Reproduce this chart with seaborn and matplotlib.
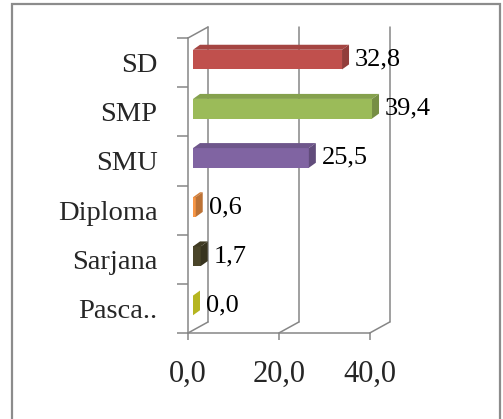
import matplotlib
matplotlib.use("Agg")
import matplotlib.pyplot as plt
import matplotlib.colors as mcolors
from matplotlib.patches import Polygon, Rectangle
import seaborn as sns
import pandas as pd

# Education level shares (percent)
categories = ["SD", "SMP", "SMU", "Diploma", "Sarjana", "Pasca.."]
values = [32.8, 39.4, 25.5, 0.6, 1.7, 0.0]
value_labels = ["32,8", "39,4", "25,5", "0,6", "1,7", "0,0"]
tick_values = [0, 20, 40]
tick_labels = ["0,0", "20,0", "40,0"]
bar_colors = ["#C0504D", "#9BBB59", "#8064A2", "#F79646", "#4A4529", "#EEEE2A"]

sns.set_style("white")
plt.rcParams["font.family"] = ["Liberation Serif", "DejaVu Serif"]

W, H, DPI = 503, 419, 100
fig = plt.figure(figsize=(W / DPI, H / DPI), dpi=DPI)

# front plane of the 3-D box, in pixels from the top-left corner
px_left, px_right, px_top, px_bottom = 188, 397, 38, 333
xmax = 46.0
ax = fig.add_axes([px_left / W, (H - px_bottom) / H,
                   (px_right - px_left) / W, (px_bottom - px_top) / H])
ax.set_xlim(0, xmax)
ax.set_ylim(len(categories) - 0.5, -0.5)

sx = (px_right - px_left) / xmax          # pixels per value unit
sy = (px_bottom - px_top) / len(categories)  # pixels per category

def px2data(dx_px, dy_px):
    # dy_px positive = upwards on screen (y axis is inverted)
    return dx_px / sx, -dy_px / sy

grid_color = "#868686"
grid_lw = 1.1

df = pd.DataFrame({"level": categories, "pct": values})
sns.barplot(data=df, x="pct", y="level", hue="level", palette=bar_colors,
            orient="h", width=0.4, legend=False, saturation=1, ax=ax,
            zorder=3)

# back wall and floor of the box
bdx, bdy = px2data(20, 11)
y_top, y_bot = -0.5, len(categories) - 0.5
for t in tick_values:
    ax.plot([t + bdx, t + bdx], [y_top + bdy, y_bot + bdy], color=grid_color,
            lw=grid_lw, clip_on=False, zorder=1)
    ax.plot([t, t + bdx], [y_bot, y_bot + bdy], color=grid_color,
            lw=grid_lw, clip_on=False, zorder=1)
ax.plot([0, bdx], [y_top, y_top + bdy], color=grid_color, lw=grid_lw,
        clip_on=False, zorder=1)

# bars sit a little behind the front plane and get a top and a side face
fdx, fdy = px2data(5, 3)
ddx, ddy = px2data(7, 5)
gap, _ = px2data(6, 0)
for patch, col, val, lab in zip(ax.patches, bar_colors, values, value_labels):
    x0 = patch.get_x() + fdx
    y0 = patch.get_y() + fdy
    w = patch.get_width()
    h = patch.get_height()
    patch.set_x(x0)
    patch.set_y(y0)
    patch.set_edgecolor("none")
    rgb = mcolors.to_rgb(col)
    top_c = tuple(c * 0.86 for c in rgb)
    side_c = tuple(c * 0.76 for c in rgb)
    ax.add_patch(Polygon([(x0, y0), (x0 + w, y0), (x0 + w + ddx, y0 + ddy),
                          (x0 + ddx, y0 + ddy)], closed=True, facecolor=top_c,
                         edgecolor="none", zorder=3, clip_on=False))
    ax.add_patch(Polygon([(x0 + w, y0), (x0 + w + ddx, y0 + ddy),
                          (x0 + w + ddx, y0 + h + ddy), (x0 + w, y0 + h)],
                         closed=True, facecolor=side_c, edgecolor="none",
                         zorder=3, clip_on=False))
    ax.text(x0 + w + ddx + gap, y0 + h / 2, lab, ha="left", va="center",
            fontsize=19, color="black", zorder=4, clip_on=False)

# axes lines and ticks
for side in ["top", "right"]:
    ax.spines[side].set_visible(False)
ax.spines["left"].set_color(grid_color)
ax.spines["bottom"].set_color(grid_color)
ax.spines["left"].set_linewidth(grid_lw)
ax.spines["bottom"].set_linewidth(grid_lw)
ax.spines["bottom"].set_bounds(0, 40)

ax.set_xticks(tick_values)
ax.set_xticklabels(tick_labels, fontsize=22)
ax.set_yticks(range(len(categories)))
ax.set_yticklabels(categories, fontsize=20.5)
ax.set_yticks([i - 0.5 for i in range(len(categories) + 1)], minor=True)
ax.tick_params(axis="x", which="major", bottom=True, direction="out",
               length=5, width=grid_lw, color=grid_color, pad=14)
ax.tick_params(axis="y", which="major", left=True, length=0, pad=22)
ax.tick_params(axis="y", which="minor", left=True, direction="out",
               length=8, width=grid_lw, color=grid_color)
ax.set_xlabel("")
ax.set_ylabel("")
ax.patch.set_alpha(0)

# chart frame
fig.patches.append(Rectangle((12 / W, -0.05), (500 - 12) / W, 415 / H + 0.05,
                             transform=fig.transFigure, fill=False,
                             edgecolor="#8C8C8C", linewidth=1.6))

fig.savefig("out.png", dpi=DPI)
